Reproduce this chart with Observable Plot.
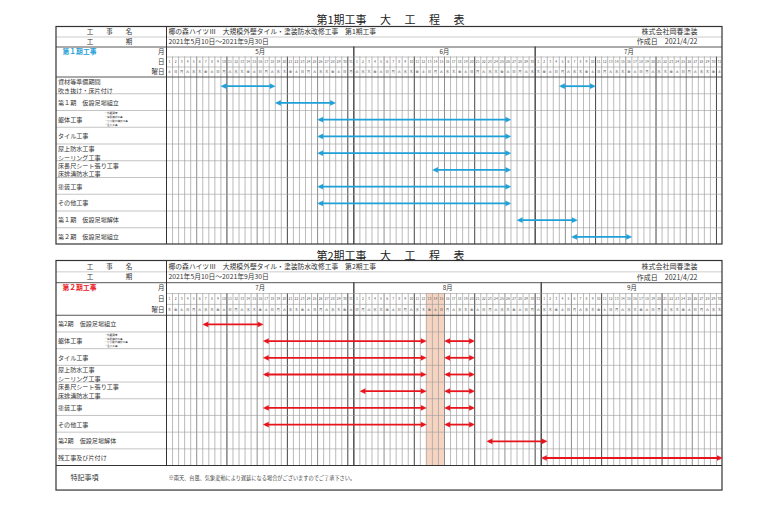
<!DOCTYPE html>
<html><head><meta charset="utf-8">
<script src="https://cdn.jsdelivr.net/npm/d3@7"></script>
<script src="https://cdn.jsdelivr.net/npm/@observablehq/plot@0.6"></script>
<style>body{margin:0;background:#fff}</style>
</head><body><div id="chart"></div>
<script>
// ---------- data ----------
const p1Title = "第1期工事　 大　 工　 程　 表";
const p2Title = "第2期工事　 大　 工　 程　 表";
const p1Project = "椰の森ハイツⅢ　大規模外壁タイル・塗装防水改修工事　第1期工事";
const p2Project = "椰の森ハイツⅢ　大規模外壁タイル・塗装防水改修工事　第2期工事";
const periodText = "2021年5月10日～2021年9月30日";
const company = "株式会社岡春塗装";
const madeDate = "作成日　2021/4/22";
const p1Label = "第１期工事";
const p2Label = "第２期工事";
const remarkHead = "特記事項";
const remarkText = "※雨天、台風、気象変動により遅延になる場合がございますのでご了承下さい。";
const kutaiNotes = ["・外壁調査", "・爆裂補修工事", "・ひび割れ補修工事", "・注入工事"];

const p1Start = "2021-05-01";
const p1Months = ["5月", "6月", "7月"];
const p1MonthDays = [31, 30, 31];
const p2Start = "2021-07-01";
const p2Months = ["7月", "8月", "9月"];
const p2MonthDays = [31, 31, 30];

const p1Tasks = [
  "資材等準備期間\n吹き抜け・床片付け",
  "第１期　仮設足場組立",
  "躯体工事",
  "タイル工事",
  "屋上防水工事\nシーリング工事",
  "床長尺シート張り工事\n床排溝防水工事",
  "塗装工事",
  "その他工事",
  "第１期　仮設足場解体",
  "第２期　仮設足場組立"
];
const p1BarTask = [0, 0, 1, 2, 3, 4, 5, 6, 7, 8, 9];
const p1BarFrom = ["2021-05-10", "2021-07-05", "2021-05-19", "2021-05-26", "2021-05-26", "2021-05-26", "2021-06-14", "2021-05-26", "2021-05-26", "2021-06-28", "2021-07-07"];
const p1BarTo   = ["2021-05-18", "2021-07-10", "2021-05-28", "2021-06-26", "2021-06-26", "2021-06-26", "2021-06-26", "2021-06-26", "2021-06-26", "2021-07-07", "2021-07-16"];

const p2Tasks = [
  "第2期　仮設足場組立",
  "躯体工事",
  "タイル工事",
  "屋上防水工事\nシーリング工事",
  "床長尺シート張り工事\n床排溝防水工事",
  "塗装工事",
  "その他工事",
  "第2期　仮設足場解体",
  "残工事及び片付け"
];
const p2BarTask = [0, 1, 1, 2, 2, 3, 3, 4, 4, 5, 5, 6, 6, 7, 8];
const p2BarFrom = ["2021-07-07", "2021-07-17", "2021-08-16", "2021-07-17", "2021-08-16", "2021-07-17", "2021-08-16", "2021-08-02", "2021-08-16", "2021-07-17", "2021-08-16", "2021-07-17", "2021-08-16", "2021-08-23", "2021-09-01"];
const p2BarTo   = ["2021-07-16", "2021-08-12", "2021-08-20", "2021-08-12", "2021-08-20", "2021-08-12", "2021-08-20", "2021-08-12", "2021-08-20", "2021-08-12", "2021-08-20", "2021-08-12", "2021-08-20", "2021-09-01", "2021-09-30"];

const p2HolidayFrom = ["2021-08-13"];
const p2HolidayTo = ["2021-08-15"];

// ---------- layout ----------
const FONT = '"Noto Sans CJK JP", "Noto Sans", sans-serif';
const X0 = 166, X1 = 722, LEFT = 56;
const dayW = (X1 - X0) / 92;
const px = v => (v - X0) / dayW;       // pixel -> day units (layout only)
const idx = (start, s) => d3.utcDay.count(new Date(start), new Date(s));
const WD = "日月火水木金土";

function table(cfg) {
  const {L, start, months, monthDays, tasks, barTask, barFrom, barTo, color, label, title, project} = cfg;
  const marks = [];
  const yH = k => L.top + k * L.hdrH;
  const gTop = yH(5);
  const gBot = gTop + tasks.length * L.rowH;
  const bottom = gBot + (L.notesH || 0);
  const rowC = i => gTop + (i + 0.5) * L.rowH;
  const nDays = d3.sum(monthDays);
  const days = d3.range(nDays).map(i => {
    const d = new Date(Date.parse(start) + i * 864e5);
    return {i, dom: d.getUTCDate(), wd: WD[d.getUTCDay()]};
  });
  const mEnds = d3.cumsum(monthDays);
  const mStarts = mEnds.map((e, k) => e - monthDays[k]);
  const monthData = months.map((m, k) => ({m, s: mStarts[k], e: mEnds[k]}));

  // holiday shading
  if (cfg.holFrom) {
    const hol = cfg.holFrom.map((f, k) => ({f, t: cfg.holTo[k]}));
    marks.push(Plot.rect(hol, {x1: d => idx(start, d.f), x2: d => idx(start, d.t) + 1,
      y1: () => yH(3), y2: () => gBot, fill: "#f3cdb6", fillOpacity: 0.85}));
  }
  // day lines
  const lines = days.slice(1).filter(d => !mStarts.includes(d.i)).map(d => {
    const prev = days[d.i - 1].dom;
    const kind = prev % 10 === 0 ? 2 : prev % 5 === 0 ? 1 : 0;
    return {x: d.i, kind};
  });
  marks.push(Plot.ruleX(lines, {x: "x", y1: () => yH(3), y2: () => gBot,
    stroke: d => ["#a4a4a4", "#7a7a7a", "#444"][d.kind],
    strokeWidth: d => [0.75, 0.85, 1][d.kind]}));
  marks.push(Plot.ruleX(mStarts.slice(1), {x: d => d, y1: () => yH(2), y2: () => gBot, stroke: "#222", strokeWidth: 1.2}));
  // horizontal lines
  const rowLines = d3.range(1, tasks.length).map(i => gTop + i * L.rowH);
  marks.push(Plot.ruleY(rowLines, {y: d => d, x1: () => px(LEFT), x2: () => 92, stroke: "#9c9c9c", strokeWidth: 0.6}));
  marks.push(Plot.ruleY([yH(3), yH(4)], {y: d => d, x1: () => 0, x2: () => 92, stroke: "#999", strokeWidth: 0.6}));
  marks.push(Plot.ruleY([yH(1)], {y: d => d, x1: () => px(LEFT), x2: () => 92, stroke: "#aaa", strokeWidth: 0.6}));
  marks.push(Plot.ruleY([yH(2), gTop], {y: d => d, x1: () => px(LEFT), x2: () => 92, stroke: "#444", strokeWidth: 0.9}));
  if (L.notesH) marks.push(Plot.ruleY([gBot], {y: d => d, x1: () => px(LEFT), x2: () => 92, stroke: "#333", strokeWidth: 1.1}));
  // vertical divider & frame
  marks.push(Plot.ruleX([0], {x: d => d, y1: () => L.top, y2: () => gBot, stroke: "#333", strokeWidth: 1}));
  marks.push(Plot.rect([0], {x1: () => px(LEFT), x2: () => 92, y1: () => L.top, y2: () => bottom,
    fill: "none", stroke: "#333", strokeWidth: 1.2}));

  // texts
  const T = (data, o) => Plot.text(data, {fontFamily: FONT, fill: "#333", ...o});
  marks.push(T([title], {text: d => d, x: () => px(390), y: () => L.top - L.titleGap, fontSize: 11, fill: "#222"}));
  marks.push(T(["工　　事　　名"], {text: d => d, x: () => px(109), y: () => yH(0.5), fontSize: 6.5}));
  marks.push(T(["工　　　　　期"], {text: d => d, x: () => px(109), y: () => yH(1.5), fontSize: 6.5}));
  marks.push(T([project], {text: d => d, x: () => px(168), y: () => yH(0.5), fontSize: 6.8, textAnchor: "start"}));
  marks.push(T([periodText], {text: d => d, x: () => px(168), y: () => yH(1.5), fontSize: 6.8, textAnchor: "start"}));
  marks.push(T([company], {text: d => d, x: () => px(697), y: () => yH(0.5), fontSize: 7, textAnchor: "end"}));
  marks.push(T([madeDate], {text: d => d, x: () => px(697), y: () => yH(1.5), fontSize: 7, textAnchor: "end"}));
  marks.push(T([label], {text: d => d, x: () => px(62), y: () => yH(2.5), fontSize: 6.8, fontWeight: "bold", fill: color, textAnchor: "start"}));
  marks.push(T(["月", "日", "曜日"], {text: d => d, x: () => px(164), y: (d, k) => yH(2.5 + k), fontSize: 6.5, textAnchor: "end"}));
  marks.push(T(monthData, {text: "m", x: d => (d.s + d.e) / 2, y: () => yH(2.5), fontSize: 6.3}));
  marks.push(T(days, {text: d => String(d.dom), x: d => d.i + 0.5, y: () => yH(3.5), fontSize: 3.4, fill: "#555"}));
  marks.push(T(days, {text: "wd", x: d => d.i + 0.5, y: () => yH(4.5), fontSize: 3.4, fill: "#555"}));
  marks.push(T(tasks, {text: d => d, x: () => px(57.5), y: (d, i) => rowC(i), fontSize: 6.1, textAnchor: "start", lineHeight: 1.46}));
  const kIdx = tasks.indexOf("躯体工事");
  marks.push(T([kutaiNotes.join("\n")], {text: d => d, x: () => px(104), y: () => rowC(kIdx), fontSize: 2.6, textAnchor: "start", lineHeight: 1.46}));
  if (L.notesH) {
    marks.push(T([remarkHead], {text: d => d, x: () => px(84), y: () => gBot + L.notesH / 2, fontSize: 7}));
    marks.push(T([remarkText], {text: d => d, x: () => px(168), y: () => gBot + L.notesH / 2, fontSize: 5.2, textAnchor: "start", fill: "#444"}));
  }
  // arrows
  const bars = barTask.map((t, k) => ({t, a: idx(start, barFrom[k]), b: idx(start, barTo[k]) + 1}));
  const by = d => rowC(d.t) + 0.8;
  marks.push(Plot.ruleY(bars, {y: by, x1: d => d.a + 0.4, x2: d => d.b - 0.4, stroke: color, strokeWidth: 1.8}));
  marks.push(Plot.vector(bars, {x: "b", y: by, rotate: 90, length: 5.5, anchor: "end", shape: "spike", r: 2.6, fill: color, stroke: color, strokeWidth: 0.3}));
  marks.push(Plot.vector(bars, {x: "a", y: by, rotate: -90, length: 5.5, anchor: "end", shape: "spike", r: 2.6, fill: color, stroke: color, strokeWidth: 0.3}));
  return marks;
}

const L1 = {top: 26.5, hdrH: 10, rowH: 16.75, titleGap: 7};
const L2 = {top: 260.5, hdrH: 10.85, rowH: 16.7, notesH: 25, titleGap: 5};

const chart = Plot.plot({
  width: 770, height: 510, margin: 0,
  x: {type: "linear", domain: [0, 92], range: [X0, X1], axis: null},
  y: {type: "linear", domain: [0, 510], range: [0, 510], axis: null},
  style: {fontFamily: FONT, background: "#fff"},
  marks: [
    ...table({L: L1, start: p1Start, months: p1Months, monthDays: p1MonthDays, tasks: p1Tasks,
      barTask: p1BarTask, barFrom: p1BarFrom, barTo: p1BarTo, color: "#1ea0d8", label: p1Label, title: p1Title, project: p1Project}),
    ...table({L: L2, start: p2Start, months: p2Months, monthDays: p2MonthDays, tasks: p2Tasks,
      barTask: p2BarTask, barFrom: p2BarFrom, barTo: p2BarTo, color: "#e8141c", label: p2Label, title: p2Title, project: p2Project,
      holFrom: p2HolidayFrom, holTo: p2HolidayTo})
  ]
});
document.getElementById("chart").appendChild(chart);
</script></body></html>
